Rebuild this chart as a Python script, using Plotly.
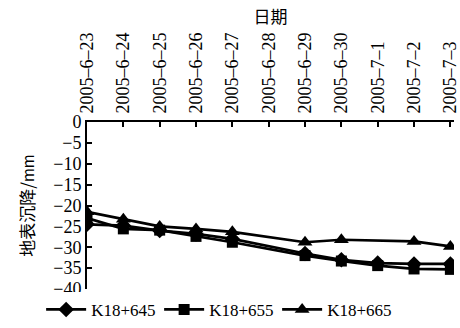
import plotly.graph_objects as go

dates = ["2005–6–23", "2005–6–24", "2005–6–25", "2005–6–26", "2005–6–27", "2005–6–28",
         "2005–6–29", "2005–6–30", "2005–7–1", "2005–7–2", "2005–7–3"]
k645 = [-24.5, -24.8, -26.0, -26.8, -28.0, None, -31.5, -33.0, -33.8, -34.0, -34.0]
k655 = [-23.0, -25.6, -25.9, -27.4, -28.8, None, -32.0, -33.3, -34.4, -35.2, -35.3]
k665 = [-21.5, -23.3, -25.0, -25.6, -26.3, None, -28.8, -28.2, None, -28.6, -29.8]

serif = "Liberation Serif, Times New Roman, serif"
fig = go.Figure()
for name, vals, sym, sz in [("K18+645", k645, "diamond", 12),
                            ("K18+655", k655, "square", 11),
                            ("K18+665", k665, "triangle-up", 13)]:
    fig.add_trace(go.Scatter(x=dates, y=vals, name=name, mode="lines+markers",
                             connectgaps=True,
                             line=dict(color="black", width=2.7),
                             marker=dict(symbol=sym, size=sz, color="black")))

fig.update_layout(
    width=460, height=328,
    margin=dict(l=87, r=0, t=122, b=30),
    paper_bgcolor="white", plot_bgcolor="white",
    font=dict(family=serif, size=18, color="black"),
    showlegend=True,
    legend=dict(orientation="h", x=-0.125, xanchor="left", y=-0.125, yanchor="middle",
                font=dict(family=serif, size=17), entrywidth=63, entrywidthmode="pixels",
                tracegroupgap=0, itemwidth=40, borderwidth=0),
    xaxis=dict(type="category", side="top", range=[0, 10.1], tickangle=-90,
               showline=True, linecolor="black", linewidth=2, ticks="inside",
               ticklen=5, tickwidth=1.5, tickcolor="black", showgrid=False,
               zeroline=False, ticklabelstandoff=3,
               title=dict(text="日期", font=dict(family="Noto Sans CJK SC", size=17),
                          standoff=4)),
    yaxis=dict(range=[-40, 0], dtick=5, showline=True, linecolor="black", linewidth=2,
               ticks="inside", ticklen=5, tickwidth=1.5, tickcolor="black",
               showgrid=False, zeroline=False,
               title=dict(text="地表沉降/<span style='font-size:15px'>mm</span>",
                          font=dict(family="Noto Sans CJK SC", size=17), standoff=14)),
)
fig.write_html("out.html")
